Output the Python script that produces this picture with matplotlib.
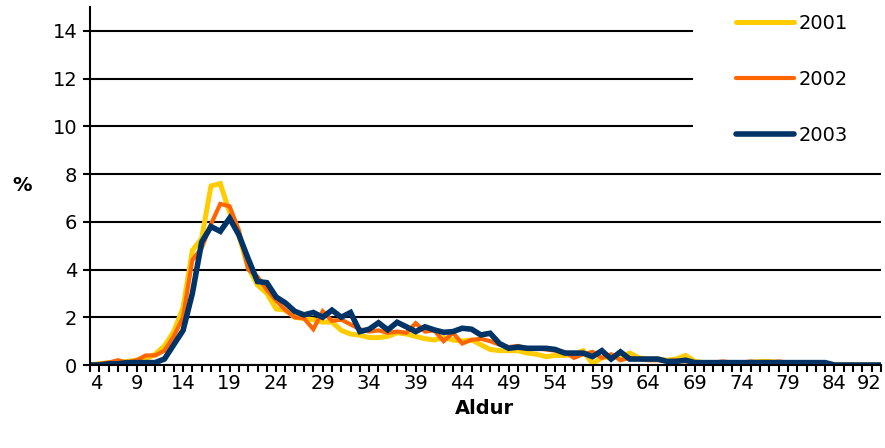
import matplotlib.pyplot as plt
from matplotlib.lines import Line2D
from matplotlib.patches import Rectangle

# categories (ages) and values in %
ages = list(range(4, 89)) + [92]
y2001 = [0.0, 0.05, 0.1, 0.1, 0.15, 0.2, 0.25, 0.45, 0.8, 1.4,
         2.4, 4.8, 5.3, 7.5, 7.6, 6.4, 5.4, 4.1, 3.35, 3.0,
         2.35, 2.3, 2.0, 1.95, 1.9, 1.8, 1.8, 1.45, 1.3, 1.25,
         1.15, 1.15, 1.2, 1.35, 1.3, 1.2, 1.1, 1.05, 1.15, 1.05,
         1.0, 1.05, 0.85, 0.65, 0.6, 0.6, 0.6, 0.5, 0.45, 0.35,
         0.4, 0.4, 0.45, 0.6, 0.05, 0.3, 0.35, 0.35, 0.5, 0.3,
         0.25, 0.25, 0.2, 0.25, 0.4, 0.15, 0.1, 0.1, 0.1, 0.1,
         0.1, 0.1, 0.15, 0.15, 0.1, 0.05, 0.05, 0.05, 0.05, 0.05,
         0.0, 0.0, 0.0, 0.0, 0.0, 0.0]
y2002 = [0.0, 0.05, 0.1, 0.2, 0.1, 0.2, 0.4, 0.4, 0.6, 1.2,
         2.0, 4.4, 4.9, 5.9, 6.75, 6.65, 5.65, 4.0, 3.7, 3.15,
         2.7, 2.3, 2.0, 1.95, 1.5, 2.25, 1.85, 1.9, 1.7, 1.5,
         1.4, 1.45, 1.35, 1.4, 1.35, 1.75, 1.4, 1.45, 1.0, 1.35,
         0.9, 1.05, 1.1, 1.0, 0.85, 0.75, 0.8, 0.7, 0.7, 0.65,
         0.6, 0.55, 0.3, 0.45, 0.55, 0.3, 0.45, 0.2, 0.3, 0.25,
         0.2, 0.2, 0.15, 0.2, 0.15, 0.1, 0.1, 0.1, 0.15, 0.1,
         0.1, 0.15, 0.1, 0.1, 0.15, 0.1, 0.05, 0.05, 0.05, 0.02,
         0.0, 0.0, 0.0, 0.0, 0.0, 0.0]
y2003 = [0.0, 0.0, 0.05, 0.05, 0.1, 0.1, 0.1, 0.1, 0.25, 0.85,
         1.45, 3.0, 5.15, 5.8, 5.6, 6.15, 5.45, 4.45, 3.5, 3.45,
         2.85, 2.6, 2.25, 2.1, 2.2, 2.0, 2.3, 2.0, 2.2, 1.4,
         1.5, 1.77, 1.47, 1.79, 1.6, 1.4, 1.6, 1.47, 1.37, 1.4,
         1.54, 1.5, 1.26, 1.33, 0.9, 0.7, 0.75, 0.7, 0.7, 0.7,
         0.65, 0.5, 0.5, 0.5, 0.35, 0.6, 0.25, 0.55, 0.25, 0.25,
         0.25, 0.25, 0.15, 0.15, 0.2, 0.1, 0.1, 0.1, 0.1, 0.1,
         0.1, 0.1, 0.1, 0.1, 0.1, 0.1, 0.1, 0.1, 0.1, 0.1,
         0.0, 0.0, 0.0, 0.0, 0.0, 0.0]

series = [("2001", y2001, "#FFCC00", 3.6),
          ("2002", y2002, "#FF6600", 3.0),
          ("2003", y2003, "#003366", 4.0)]

plt.rcParams['font.family'] = ['DejaVu Sans']
plt.rcParams['font.size'] = 14

fig = plt.figure(figsize=(8.85, 4.48), dpi=100)
ax = fig.add_axes([90 / 885, 1 - 365 / 448, (881 - 90) / 885, (365 - 7) / 448])

x = list(range(len(ages)))
for name, vals, col, lw in series:
    ax.plot(x, vals, color=col, lw=lw, solid_joinstyle='miter', zorder=3)

ax.set_xlim(0, len(ages) - 1)
ax.set_ylim(0, 15)
ax.set_yticks(range(0, 15, 2))
ax.set_xticks(x)
lbls = [str(a) if (i % 5 == 0) else "" for i, a in enumerate(ages)]
lbls[-1] = str(ages[-1])
ax.set_xticklabels(lbls)
ax.tick_params(axis='x', direction='out', length=5, width=1.5, pad=1.5)
ax.tick_params(axis='y', direction='out', length=5, width=1.5, pad=4)
xt = ax.get_xticklabels()
xt[0].set_ha('left')
xt[-1].set_ha('right')

ax.set_axisbelow(True)
ax.yaxis.grid(True, color='black', lw=1.5)
for s in ['top', 'right']:
    ax.spines[s].set_visible(False)
for s in ['left', 'bottom']:
    ax.spines[s].set_linewidth(1.5)
    ax.spines[s].set_zorder(4)

# white legend area covering the upper gridlines
ax.add_patch(Rectangle((693 / 885, 1 - 162 / 448), 192 / 885, 162 / 448,
                       transform=fig.transFigure, facecolor='white',
                       edgecolor='none', zorder=1, clip_on=False))

handles = [Line2D([], [], color=c, lw=lw, solid_capstyle='round')
           for _, _, c, lw in series]
leg = ax.legend(handles, [s[0] for s in series], loc='upper left',
                bbox_to_anchor=(736 / 885, 1 - 14 / 448),
                bbox_transform=fig.transFigure, frameon=False,
                handlelength=3.0, handletextpad=0.2, labelspacing=1.9,
                borderaxespad=0, borderpad=0)

fig.text(22 / 885, 1 - 185 / 448, '%', ha='center', va='center',
         fontweight='bold')
fig.text(484 / 885, 1 - 408 / 448, 'Aldur', ha='center', va='center',
         fontweight='bold')

fig.savefig('out.png', dpi=100)
